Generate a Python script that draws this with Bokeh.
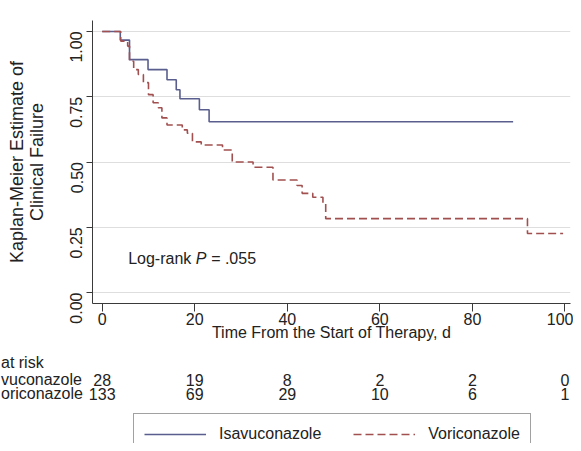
import math
from bokeh.plotting import figure
from bokeh.layouts import column
from bokeh.models import (Label, ColumnDataSource, FixedTicker, Legend,
                          LegendItem, Range1d, CustomJSTickFormatter)
from bokeh.core.properties import value
from bokeh.embed import file_html
from bokeh.resources import INLINE

# ---- data ----
iso_t = [0, 3.9, 5.9, 9.9, 14.0, 16.0, 16.8, 21.0, 23.1, 88.8]
iso_s = [1.0, 0.967, 0.892, 0.854, 0.815, 0.777, 0.742, 0.700, 0.654, 0.654]

vor_t = [0, 4.0, 5.5, 5.9, 6.8, 7.8, 8.9, 10.0, 11.0, 12.1, 12.9, 14.0, 17.3, 18.4,
         19.5, 21.4, 26.0, 28.1, 32.6, 36.9, 42.1, 43.2, 45.5, 47.7, 48.3, 91.9, 99.6]
vor_s = [1.0, 0.963, 0.944, 0.886, 0.854, 0.835, 0.804, 0.758, 0.727, 0.708, 0.669,
         0.642, 0.623, 0.610, 0.577, 0.565, 0.546, 0.500, 0.480, 0.431, 0.410, 0.380,
         0.365, 0.342, 0.283, 0.226, 0.226]

x_ticks = [0, 20, 40, 60, 80, 100]
y_ticks = [0.0, 0.25, 0.50, 0.75, 1.00]

risk_times = [0, 20, 40, 60, 80, 100]
iso_risk = [28, 19, 8, 2, 2, 0]
vor_risk = [133, 69, 29, 10, 6, 1]

group_names = ["Isavuconazole", "Voriconazole"]
# row captions exactly as visible in the (left-cropped) reference
table_head = "at risk"
row_names = ["vuconazole", "oriconazole"]
p_text = ".055"

FONT = "Liberation Sans"
BLUE = "#5a5e8e"
RED = "#a24f4f"
TXT = "#222222"
AX = "#3a3a3a"

W = 573
H1 = 350
H2 = 93
BL, BR, BT = 92, 3, 20
X0, X1 = -2.1, 101.2
pxu = (W - BL - BR) / (X1 - X0)

p = figure(width=W, height=H1, output_backend="svg", toolbar_location=None,
           x_range=Range1d(X0, X1), y_range=Range1d(-0.042, 1.042),
           min_border_left=BL, min_border_right=BR, min_border_top=BT,
           min_border_bottom=47)
p.outline_line_color = None
p.frame_align = False

p.xgrid.grid_line_color = None
p.ygrid.grid_line_color = "#dedede"
p.ygrid.grid_line_width = 1.2
p.ygrid.ticker = FixedTicker(ticks=y_ticks)

xa = p.xaxis[0]
xa.ticker = FixedTicker(ticks=x_ticks)
xa.axis_line_color = AX
xa.major_tick_line_color = AX
xa.major_tick_out = 8
xa.major_tick_in = 0
xa.minor_tick_line_color = None
xa.major_label_text_font = FONT
xa.major_label_text_font_size = "16px"
xa.major_label_text_color = TXT
xa.major_label_standoff = 1
xa.axis_label = "Time From the Start of Therapy, d"
xa.axis_label_text_font = FONT
xa.axis_label_text_font_size = "16px"
xa.axis_label_text_font_style = "normal"
xa.axis_label_text_color = TXT
xa.axis_label_standoff = -4

ya = p.yaxis[0]
ya.ticker = FixedTicker(ticks=y_ticks)
ya.formatter = CustomJSTickFormatter(code="return tick.toFixed(2);")
ya.axis_line_color = AX
ya.major_tick_line_color = AX
ya.major_tick_out = 6
ya.major_tick_in = 0
ya.minor_tick_line_color = None
ya.major_label_orientation = math.pi / 2
ya.major_label_text_font = FONT
ya.major_label_text_font_size = "16px"
ya.major_label_text_color = TXT
ya.major_label_standoff = 10
ya.axis_label = "Kaplan-Meier Estimate of\nClinical Failure"
ya.axis_label_text_font = FONT
ya.axis_label_text_font_size = "18px"
ya.axis_label_text_font_style = "normal"
ya.axis_label_text_color = TXT
ya.axis_label_text_line_height = 1.0
ya.axis_label_standoff = 15

r_iso = p.step(iso_t, iso_s, mode="after", line_color=BLUE, line_width=1.6)
r_vor = p.step(vor_t, vor_s, mode="after", line_color=RED, line_width=1.6,
               line_dash="8 4")

# Log-rank annotation
LX, LY = 5.6, 0.131
p.add_layout(Label(x=LX, y=LY, text="Log-rank", text_font=FONT,
                   text_font_size="16px", text_color=TXT, text_baseline="middle"))
p.add_layout(Label(x=LX, y=LY, x_offset=67.6, text="P", text_font=FONT,
                   text_font_style="italic", text_font_size="16px", text_color=TXT,
                   text_baseline="middle"))
p.add_layout(Label(x=LX, y=LY, x_offset=83, text="= " + p_text, text_font=FONT,
                   text_font_size="16px", text_color=TXT, text_baseline="middle"))

# ---- number-at-risk table and legend (second panel, same x scale) ----
QX0 = X0 - BL / pxu
q = figure(width=W, height=H2, output_backend="svg", toolbar_location=None,
           x_range=Range1d(QX0, X1 + BR / pxu),
           y_range=Range1d(H1 + H2, H1),
           x_axis_type=None, y_axis_type=None,
           min_border_left=0, min_border_right=0, min_border_top=0,
           min_border_bottom=0)
q.outline_line_color = None
q.frame_align = False
q.xgrid.visible = False
q.ygrid.visible = False

left_x = QX0 + 0.5 / pxu
q.text(x=[left_x], y=[362], text=[table_head], text_font=value(FONT),
       text_font_size="16px", text_color=TXT, text_align="left",
       text_baseline="middle")
row_y = [379, 393]
for name, vals, yy in zip(row_names, [iso_risk, vor_risk], row_y):
    q.text(x=[left_x], y=[yy], text=[name], text_font=value(FONT),
           text_font_size="16px", text_color=TXT, text_align="left",
           text_baseline="middle")
    src = ColumnDataSource(dict(x=risk_times, y=[yy] * len(vals),
                                t=[str(v) for v in vals]))
    q.text(x="x", y="y", text="t", source=src,
           text_font=value(FONT), text_font_size="16px", text_color=TXT,
           text_align="center", text_baseline="middle")

lr1 = q.line([X0], [H1], line_color=BLUE, line_width=1.6)
lr2 = q.line([X0], [H1], line_color=RED, line_width=1.6, line_dash="8 4")
legend = Legend(items=[LegendItem(label=group_names[0], renderers=[lr1]),
                       LegendItem(label=group_names[1], renderers=[lr2])],
                orientation="horizontal", location=(133, -12))
legend.border_line_color = "#444444"
legend.border_line_width = 1
legend.background_fill_alpha = 1
legend.label_text_font = FONT
legend.label_text_font_size = "16px"
legend.label_text_color = TXT
legend.glyph_width = 62
legend.glyph_height = 20
legend.label_standoff = 13
legend.spacing = 32
legend.padding = 10
legend.margin = 0
q.add_layout(legend, "center")

layout = column(p, q, spacing=0)
open("out.html", "w").write(file_html(layout, INLINE))
